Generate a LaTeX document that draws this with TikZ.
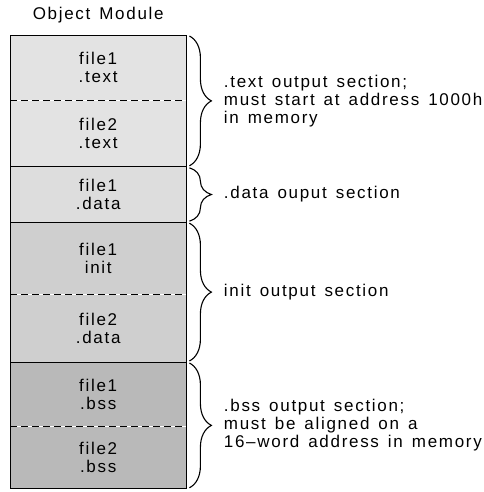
\documentclass[tikz,border=0pt]{standalone}
\usepackage{fontspec}
\setmainfont{Liberation Sans}[LetterSpace=10, WordSpace=1.4]
\usepackage{tikz}
\usetikzlibrary{positioning, decorations.pathreplacing}

\begin{document}
\begin{tikzpicture}[
    x=1pt, y=1pt,
    node distance=0pt,
    font=\fontsize{17}{18}\selectfont,
    sect/.style={rectangle, minimum width=176pt, inner sep=0pt, align=center},
    lbl/.style={anchor=west, inner sep=0pt, xshift=34pt, align=left},
    brc/.style={decorate, decoration={brace, amplitude=22pt}, line width=1.1pt}
]
    \useasboundingbox (0,0) rectangle (483,-492);

    % .text sections
    \node[sect, fill=gray!22, minimum height=65pt, anchor=north west] (t1) at (10,-35) {file1\\.text};
    \node[sect, fill=gray!22, minimum height=66pt, below=of t1] (t2) {file2\\.text};

    % .data section
    \node[sect, fill=gray!27, minimum height=55pt, below=of t2] (d1) {file1\\.data};

    % init sections
    \node[sect, fill=gray!38, minimum height=72pt, below=of d1] (i1) {file1\\init};
    \node[sect, fill=gray!38, minimum height=67pt, below=of i1] (d2) {file2\\.data};

    % .bss sections
    \node[sect, fill=gray!55, minimum height=64pt, below=of d2] (b1) {file1\\.bss};
    \node[sect, fill=gray!55, minimum height=62pt, below=of b1] (b2) {file2\\.bss};

    % Title
    \node[inner sep=0pt, above=12pt of t1] (title) {Object Module};

    % Frame and dividers
    \draw[thick] (t1.north west) rectangle (b2.south east);
    \draw[thick] (t2.south west) -- (t2.south east);
    \draw[thick] (d1.south west) -- (d1.south east);
    \draw[thick] (d2.south west) -- (d2.south east);
    \draw[thick, dash pattern=on 7pt off 4pt] (t1.south west) -- (t1.south east);
    \draw[thick, dash pattern=on 7pt off 4pt] (i1.south west) -- (i1.south east);
    \draw[thick, dash pattern=on 7pt off 4pt] (b1.south west) -- (b1.south east);

    % Braces and output sections
    \draw[brc] ([xshift=3pt,yshift=-1pt]t1.north east) -- ([xshift=3pt,yshift=1pt]t2.south east)
        node[lbl, midway] (textout) {.text output section;\\must start at address 1000h\\in memory};
    \draw[brc] ([xshift=3pt,yshift=-1pt]d1.north east) -- ([xshift=3pt,yshift=1pt]d1.south east)
        node[lbl, midway] (dataout) {.data ouput section};
    \draw[brc] ([xshift=3pt,yshift=-1pt]i1.north east) -- ([xshift=3pt,yshift=1pt]d2.south east)
        node[lbl, midway] (initout) {init output section};
    \draw[brc] ([xshift=3pt,yshift=-1pt]b1.north east) -- ([xshift=3pt,yshift=1pt]b2.south east)
        node[lbl, midway] (bssout) {.bss output section;\\must be aligned on a\\16--word address in memory};
\end{tikzpicture}
\end{document}
